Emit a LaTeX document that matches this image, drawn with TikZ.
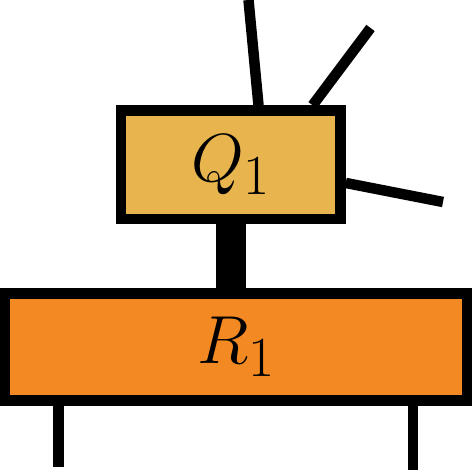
\RequirePackage{fix-cm}
\documentclass[tikz,border=0pt]{standalone}
\usetikzlibrary{calc}
\DeclareMathSizes{68}{68}{56.7}{47.2}
\definecolor{qgold}{RGB}{232,180,78}
\definecolor{rorange}{RGB}{242,137,34}
\tikzset{box/.style={draw,line width=10.5pt,inner sep=0pt,font=\fontsize{68}{80}\selectfont},
	wire/.style={line width=10.5pt},
	bond/.style={line width=30pt}}
\begin{document}
\begin{tikzpicture}[x=1pt,y=-1pt]
			\useasboundingbox (0,0) rectangle (472,470);
			\coordinate (Qa) at (248.5,0);
			\coordinate (Qb) at (370.5,28);
			\coordinate (Qc) at (443,202);
			\coordinate (Ra) at (58.7,467);
			\coordinate (Rb) at (412.8,470);
			\node[box,fill=qgold,minimum width=219.5pt,minimum height=108.5pt] (Q1) at (230.75,164.75) {$Q_1$};
			\node[box,fill=rorange,minimum width=462pt,minimum height=107.2pt] (R1) at (236,347) {$R_1$};
			\draw[bond] (Q1.south) -- (Q1.south |- R1.north);
			\draw[wire] (Q1.65) -- (Qa);
			\draw[wire] (Q1.36) -- (Qb);
			\draw[wire] (Q1.-9) -- (Qc);
			\draw[wire] (Ra |- R1.south) -- (Ra);
			\draw[wire] (Rb |- R1.south) -- (Rb);
		\end{tikzpicture}
\end{document}
